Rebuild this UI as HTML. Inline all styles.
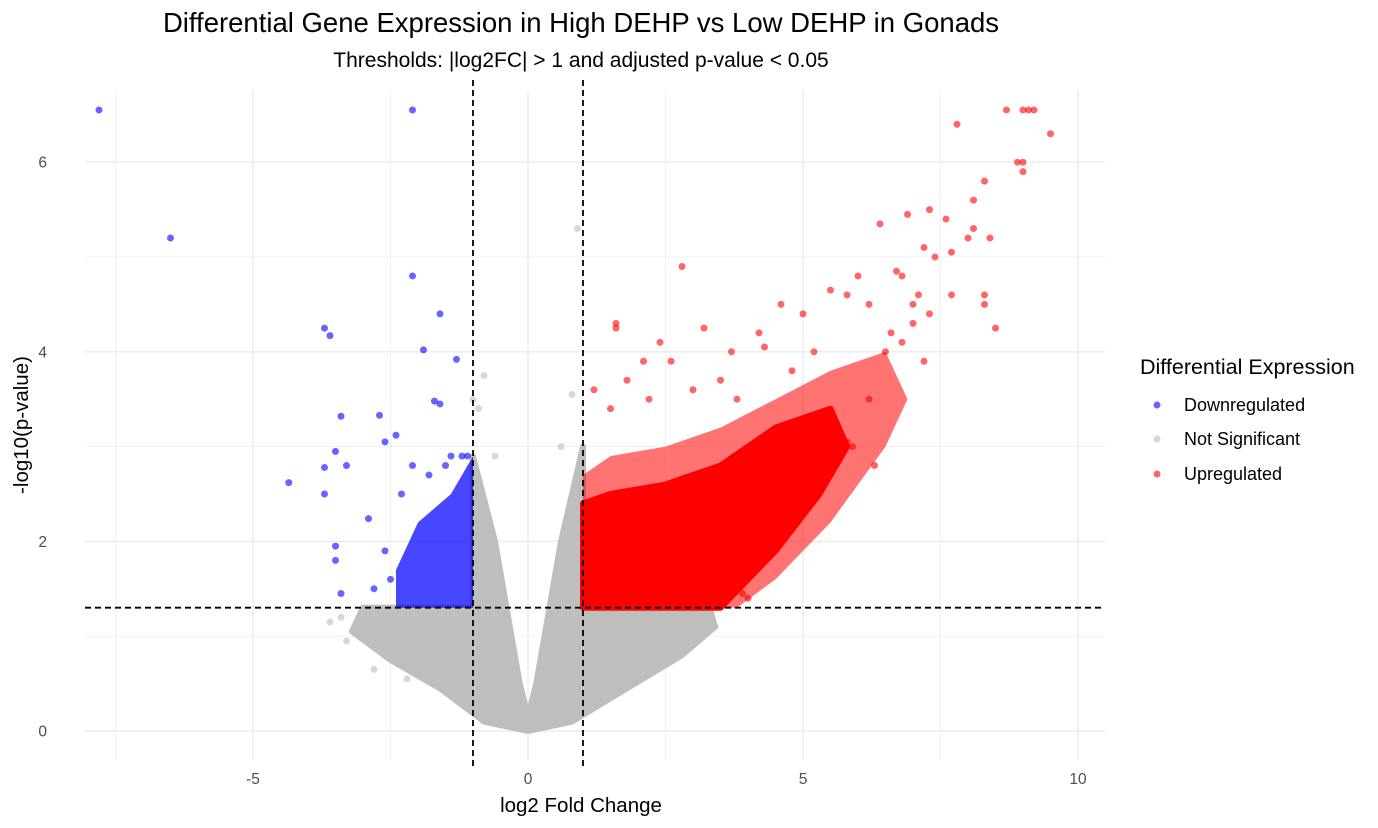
<!DOCTYPE html>
<html><head><meta charset="utf-8"><style>
body{margin:0;background:#fff;font-family:"Liberation Sans",sans-serif;}
svg{display:block}
</style></head><body>
<svg id="chart" width="1378" height="828" font-family="Liberation Sans, sans-serif">
<rect width="1378" height="828" fill="#fff"/>
<g id="grid"></g>
<g id="clouds"></g>
<g id="pts"></g>
<g id="thr"></g>
<g id="ticks"></g>
<text x="581" y="32" text-anchor="middle" font-size="27.5">Differential Gene Expression in High DEHP vs Low DEHP in Gonads</text>
<text x="581" y="67" text-anchor="middle" font-size="21">Thresholds: |log2FC| &gt; 1 and adjusted p-value &lt; 0.05</text>
<text x="581" y="812" text-anchor="middle" font-size="20.5">log2 Fold Change</text>
<text transform="translate(28,425) rotate(-90)" text-anchor="middle" font-size="20.5">-log10(p-value)</text>
<g>
<text x="1140" y="374" font-size="21.5">Differential Expression</text>
<circle cx="1157" cy="405" r="3.5" fill="#0000ff" fill-opacity="0.6"/>
<text x="1184" y="411" font-size="18">Downregulated</text>
<circle cx="1157" cy="439" r="3.5" fill="#bebebe" fill-opacity="0.6"/>
<text x="1184" y="445" font-size="18">Not Significant</text>
<circle cx="1157" cy="474" r="3.5" fill="#ff0000" fill-opacity="0.6"/>
<text x="1184" y="480" font-size="18">Upregulated</text>
</g>
</svg>
<script>
const xTicks=[-5,0,5,10];
const xMinor=[-7.5,-2.5,2.5,7.5];
const yTicks=[0,2,4,6];
const yMinor=[1,3,5];
const fcThreshold=1;
const pThreshold=1.301;
const greyCloud=[[0,0],[-0.8,0.1],[-1.6,0.45],[-2.5,0.75],[-3.2,1.05],[-3.0,1.3],[-1,1.3],[-1,2.9],[-0.6,2.0],[-0.15,0.5],[0,0.15],[0.15,0.5],[0.6,2.0],[1,3.0],[1,1.3],[3.3,1.3],[3.4,1.1],[2.8,0.8],[1.8,0.45],[0.8,0.1]];
const redOuter=[[1,1.3],[3.8,1.3],[4.5,1.6],[5.5,2.2],[6.5,3.0],[6.9,3.5],[6.5,4.0],[5.5,3.8],[4.5,3.5],[3.5,3.2],[2.5,3.0],[1.5,2.9],[1,2.7]];
const redCore=[[1,1.3],[3.5,1.3],[4.5,1.9],[5.3,2.5],[5.8,3.0],[5.5,3.4],[4.5,3.2],[3.5,2.8],[2.5,2.6],[1.5,2.5],[1,2.4]];
const blueCloud=[[-1,1.3],[-2.4,1.3],[-2.4,1.7],[-2,2.2],[-1.4,2.5],[-1,2.9]];
const blueX=[-7.8,-6.5,-2.1,-2.1,-1.6,-3.7,-3.6,-1.9,-1.3,-1.7,-1.6,-3.4,-2.7,-3.5,-3.3,-3.7,-4.35,-3.7,-2.6,-2.4,-2.9,-3.5,-3.5,-3.4,-2.8,-2.1,-1.4,-1.2,-2.3,-2.6,-2.5,-1.5,-1.8,-1.1];
const blueY=[6.55,5.2,6.55,4.8,4.4,4.25,4.17,4.02,3.92,3.48,3.45,3.32,3.33,2.95,2.8,2.78,2.62,2.5,3.05,3.12,2.24,1.95,1.8,1.45,1.5,2.8,2.9,2.9,2.5,1.9,1.6,2.8,2.7,2.9];
const greyX=[0.9,-0.8,-1,-0.9,0.8,-3.6,-3.4,-3.3,-2.9,-2.8,-2.2,3.1,3.4,-0.6,0.6];
const greyY=[5.3,3.75,3.5,3.4,3.55,1.15,1.2,0.95,1.0,0.65,0.55,1.2,1.1,2.9,3.0];
const redX=[8.7,9.0,9.1,9.2,9.5,7.8,8.9,9.0,9.0,8.3,8.1,7.3,7.6,8.1,8.0,8.4,6.9,6.4,7.7,7.4,7.2,6.8,6.7,7.1,7.7,8.3,8.3,8.5,6.0,5.5,5.8,6.2,7.0,7.3,7.2,2.8,1.6,1.6,3.2,2.4,2.6,3.7,4.3,5.8,5.6,6.2,4.0,3.9,2.1,1.8,1.2,1.5,4.6,4.2,5.0,6.6,6.8,6.5,7.0,5.2,4.8,2.2,3.0,3.5,3.8,5.9,6.3,4.4];
const redY=[6.55,6.55,6.55,6.55,6.3,6.4,6.0,5.9,6.0,5.8,5.6,5.5,5.4,5.3,5.2,5.2,5.45,5.35,5.05,5.0,5.1,4.8,4.85,4.6,4.6,4.6,4.5,4.25,4.8,4.65,4.6,4.5,4.5,4.4,3.9,4.9,4.3,4.25,4.25,4.1,3.9,4.0,4.05,3.05,3.1,3.5,1.4,1.45,3.9,3.7,3.6,3.4,4.5,4.2,4.4,4.2,4.1,4.0,4.3,4.0,3.8,3.5,3.6,3.7,3.5,3.0,2.8,2.3];
const NS='http://www.w3.org/2000/svg';
const X0=85,X1=1105,Y0=90,Y1=760;
const sx=v=>528+v*55;
const sy=v=>731-v*94.8;
function mk(tag,attrs,parent){const e=document.createElementNS(NS,tag);for(const k in attrs)e.setAttribute(k,attrs[k]);parent.appendChild(e);return e;}
const grid=document.getElementById('grid');
xMinor.forEach(v=>{const l=mk('line',{x1:sx(v),x2:sx(v),y1:Y0,y2:Y1,stroke:'#ebebeb','stroke-width':0.7},grid);

});
yMinor.forEach(v=>{const l=mk('line',{x1:X0,x2:X1,y1:sy(v),y2:sy(v),stroke:'#ebebeb','stroke-width':0.7},grid);

});
const tk=document.getElementById('ticks');
xTicks.forEach(v=>{const l=mk('line',{x1:sx(v),x2:sx(v),y1:Y0,y2:Y1,stroke:'#ebebeb','stroke-width':1.4},grid);


const t=mk('text',{x:sx(v),y:784,'text-anchor':'middle','font-size':15.5,fill:'#4d4d4d'},tk);t.textContent=v;

});
yTicks.forEach(v=>{const l=mk('line',{x1:X0,x2:X1,y1:sy(v),y2:sy(v),stroke:'#ebebeb','stroke-width':1.4},grid);


const t=mk('text',{x:47,y:sy(v)+5.5,'text-anchor':'end','font-size':15.5,fill:'#4d4d4d'},tk);t.textContent=v;

});
const cl=document.getElementById('clouds');
[[greyCloud,'#bebebe',1,6,'grey-cloud'],[redOuter,'#ff0000',0.55,0,'red-cloud-outer'],[redCore,'#ff0000',1,6,'red-cloud-core'],[blueCloud,'#0000ff',0.72,0,'blue-cloud']].forEach(([p,c,o,w,n])=>{
const e=mk('polygon',{points:p.map(q=>sx(q[0])+','+sy(q[1])).join(' '),fill:c,'fill-opacity':o,stroke:c,'stroke-width':w,'stroke-linejoin':'round'},cl);

});
const pg=document.getElementById('pts');
function pts(xs,ys,c,n){xs.forEach((x,i)=>{const e=mk('circle',{cx:sx(x),cy:sy(ys[i]),r:3.5,fill:c,'fill-opacity':0.6},pg);

});}
pts(greyX,greyY,'#bebebe','point-not-significant');
pts(blueX,blueY,'#0000ff','point-downregulated');
pts(redX,redY,'#ff0000','point-upregulated');
const th=document.getElementById('thr');
[-fcThreshold,fcThreshold].forEach(v=>{const l=mk('line',{x1:sx(v),x2:sx(v),y1:Y0-10,y2:Y1+10,stroke:'#000','stroke-width':1.8,'stroke-dasharray':'6,4'},th);

});
const hl=mk('line',{x1:X0,x2:X1,y1:sy(pThreshold),y2:sy(pThreshold),stroke:'#000','stroke-width':1.8,'stroke-dasharray':'6,4'},th);


</script>
</body></html>
